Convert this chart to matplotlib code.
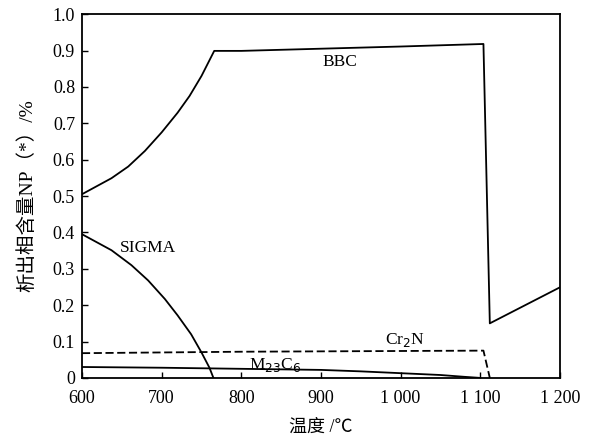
import matplotlib.pyplot as plt
import numpy as np

plt.rcParams['font.family'] = ['Liberation Serif', 'Noto Sans CJK SC']

# BBC
bbc_t = [600, 637, 658, 679, 700, 720, 735, 750, 766, 800, 900, 1000, 1104, 1112, 1200]
bbc_np = [0.505, 0.549, 0.581, 0.624, 0.675, 0.729, 0.775, 0.830, 0.899, 0.899, 0.905, 0.911, 0.918, 0.150, 0.249]

# SIGMA
sig_t = [600, 637, 662, 683, 704, 720, 737, 750, 760, 765]
sig_np = [0.395, 0.351, 0.310, 0.268, 0.217, 0.172, 0.120, 0.070, 0.028, 0.0]

# Cr2N
cr_t = [600, 700, 800, 900, 1000, 1104, 1112]
cr_np = [0.068, 0.070, 0.072, 0.073, 0.074, 0.075, 0.0]

# M23C6
m_t = [600, 700, 800, 900, 950, 1000, 1050, 1080, 1100]
m_np = [0.030, 0.028, 0.025, 0.022, 0.018, 0.013, 0.008, 0.003, 0.0]

xticks = [600, 700, 800, 900, 1000, 1100, 1200]
xtick_labels = ['600', '700', '800', '900', '1 000', '1 100', '1 200']
yticks = [0, 0.1, 0.2, 0.3, 0.4, 0.5, 0.6, 0.7, 0.8, 0.9, 1.0]
ytick_labels = ['0', '0.1', '0.2', '0.3', '0.4', '0.5', '0.6', '0.7', '0.8', '0.9', '1.0']

fig = plt.figure(figsize=(5.9, 4.42), dpi=100)
ax = fig.add_axes([0.139, 0.145, 0.81, 0.823])

ax.plot(bbc_t, bbc_np, color='black', lw=1.3)
ax.plot(sig_t, sig_np, color='black', lw=1.3)
ax.plot(cr_t, cr_np, color='black', lw=1.3, ls=(0, (4.5, 2)))
ax.plot(m_t, m_np, color='black', lw=1.3)

ax.text(924, 0.868, 'BBC', fontsize=12.5, ha='center', va='center')
ax.text(683, 0.357, 'SIGMA', fontsize=12.5, ha='center', va='center')
ax.text(1005, 0.105, r'Cr$_2$N', fontsize=12.5, ha='center', va='center')
ax.text(842, 0.036, r'M$_{23}$C$_6$', fontsize=12.5, ha='center', va='center')

ax.set_xlim(600, 1200)
ax.set_ylim(0, 1.0)
ax.set_xticks(xticks)
ax.set_xticklabels(xtick_labels)
ax.set_yticks(yticks)
ax.set_yticklabels(ytick_labels)
ax.tick_params(direction='in', length=4, labelsize=13, width=1)
ax.tick_params(axis='x', pad=9)
ax.tick_params(axis='y', pad=5)
for s in ax.spines.values():
    s.set_linewidth(1.3)

ax.set_xlabel('温度 /℃', fontsize=13, labelpad=8)
ax.set_ylabel('析出相含量NP（*）/%', fontsize=14, labelpad=12)

fig.savefig('out.png', dpi=100)
